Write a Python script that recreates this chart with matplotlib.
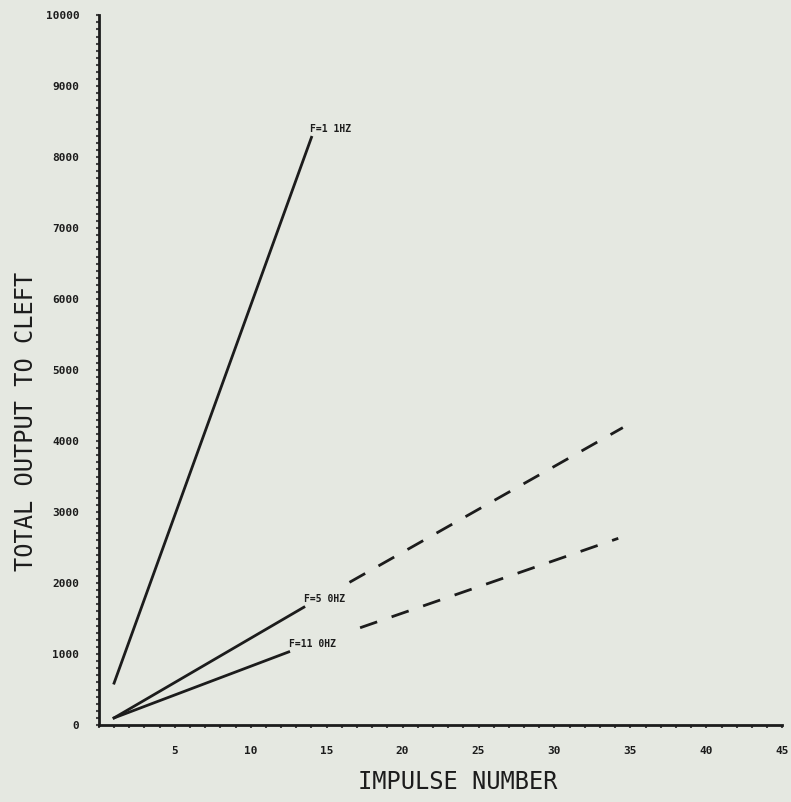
import numpy as np
import matplotlib.pyplot as plt
from matplotlib.ticker import MultipleLocator

# значения
f1_x = [1, 14]
f1_y = [590, 8280]
f5_x = [1, 13.5]
f5_y = [100, 1660]
f11_x = [1, 12.5]
f11_y = [100, 1030]

# пунктирные продолжения
f5_dash_x = [16.5, 34.5]
f5_dash_y = [2010, 4190]
f11_dash_x = [17.2, 34.2]
f11_dash_y = [1370, 2630]

labels = ['F=1 1HZ', 'F=5 0HZ', 'F=11 0HZ']
label_x = [13.9, 13.5, 12.5]
label_y = [8330, 1700, 1070]

x_ticks = [5, 10, 15, 20, 25, 30, 35, 40, 45]
y_ticks = [0, 1000, 2000, 3000, 4000, 5000, 6000, 7000, 8000, 9000, 10000]

bg = '#e5e8e1'
ink = '#1c1c1c'
mono = 'DejaVu Sans Mono'

fig = plt.figure(figsize=(7.91, 8.02), dpi=100, facecolor=bg)
ax = fig.add_axes([0.125, 0.096, 0.864, 0.885], facecolor=bg)

ax.plot(f1_x, f1_y, color=ink, lw=2)
ax.plot(f5_x, f5_y, color=ink, lw=2)
ax.plot(f11_x, f11_y, color=ink, lw=2)
ax.plot(f5_dash_x, f5_dash_y, color=ink, lw=2, dashes=(6.5, 5.5))
ax.plot(f11_dash_x, f11_dash_y, color=ink, lw=2, dashes=(6.5, 5.5))

for t, x, y in zip(labels, label_x, label_y):
    ax.text(x, y, t, fontsize=7, family=mono, color=ink,
            ha='left', va='bottom', fontweight='bold')

ax.set_xlim(0, 45)
ax.set_ylim(0, 10000)

for s in ['top', 'right']:
    ax.spines[s].set_visible(False)
for s in ['left', 'bottom']:
    ax.spines[s].set_linewidth(2)
    ax.spines[s].set_color(ink)

ax.set_xticks(x_ticks)
ax.set_yticks(y_ticks)
ax.xaxis.set_minor_locator(MultipleLocator(1))
ax.yaxis.set_minor_locator(MultipleLocator(100))
ax.tick_params(which='both', direction='out', length=2, width=1.5, color='#444444',
               labelsize=8, labelcolor=ink)
ax.tick_params(axis='x', which='major', pad=13)
ax.tick_params(axis='y', which='major', pad=12)
for lab in ax.get_xticklabels() + ax.get_yticklabels():
    lab.set_family(mono)
    lab.set_fontweight('bold')

fig.text(0.579, 0.025, 'IMPULSE NUMBER', fontsize=17, family=mono, color=ink,
         ha='center', va='center')
fig.text(0.033, 0.474, 'TOTAL OUTPUT TO CLEFT', fontsize=17, family=mono, color=ink,
         ha='center', va='center', rotation=90)

plt.savefig('out.png', dpi=100, facecolor=bg)
